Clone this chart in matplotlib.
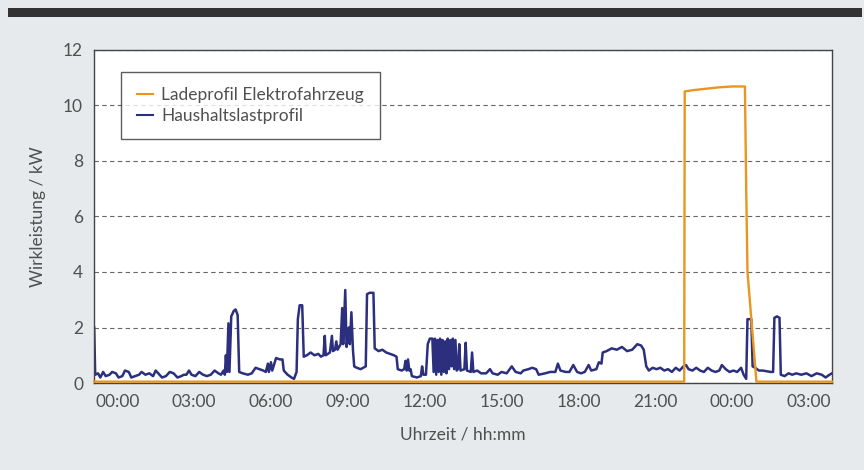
import matplotlib
matplotlib.use("Agg")
import matplotlib.pyplot as plt
from matplotlib.patches import Rectangle

# time in hours since 00:00 of day 1, power in kW
hh_time = [
    -0.90, -0.86, -0.75, -0.66, -0.55, -0.45, -0.30, -0.20, -0.05, 0.05, 0.20, 0.30,
    0.45, 0.55, 0.70, 0.85, 0.95, 1.10, 1.25, 1.40, 1.50, 1.60, 1.75, 1.90, 2.05,
    2.20, 2.35, 2.50, 2.60, 2.70, 2.80, 2.90, 3.05, 3.20, 3.35, 3.50, 3.65, 3.80,
    3.95, 4.05, 4.15, 4.20, 4.24, 4.28, 4.34, 4.38, 4.45, 4.55, 4.62, 4.70, 4.76,
    4.90, 5.10, 5.25, 5.40, 5.55, 5.70, 5.80, 5.88, 5.92, 6.00, 6.05, 6.20, 6.35,
    6.45, 6.50, 6.65, 6.80, 6.90, 7.00, 7.05, 7.12, 7.22, 7.28, 7.40, 7.55, 7.70,
    7.85, 7.95, 8.05, 8.10, 8.14, 8.30, 8.38, 8.42, 8.50, 8.55, 8.60, 8.72, 8.78,
    8.82, 8.90, 8.95, 9.00, 9.04, 9.08, 9.14, 9.20, 9.25, 9.35, 9.50, 9.60, 9.70,
    9.75, 9.85, 10.00, 10.05, 10.20, 10.35, 10.50, 10.65, 10.80, 10.90, 10.95,
    11.10, 11.20, 11.25, 11.30, 11.35, 11.40, 11.45, 11.50, 11.70, 11.85, 11.90,
    11.95, 12.05, 12.12, 12.20, 12.30, 12.35, 12.40, 12.45, 12.50, 12.55, 12.60,
    12.65, 12.70, 12.75, 12.80, 12.85, 12.90, 12.95, 13.00, 13.05, 13.10, 13.15,
    13.20, 13.25, 13.30, 13.35, 13.40, 13.55, 13.60, 13.65, 13.80, 13.85, 13.90,
    14.05, 14.20, 14.40, 14.55, 14.65, 14.85, 15.00, 15.20, 15.40, 15.55, 15.75,
    15.85, 16.05, 16.20, 16.35, 16.45, 16.70, 16.90, 17.10, 17.20, 17.30, 17.50,
    17.65, 17.80, 17.95, 18.10, 18.25, 18.40, 18.50, 18.70, 18.80, 18.90, 18.95,
    19.10, 19.30, 19.50, 19.70, 19.90, 20.10, 20.30, 20.45, 20.55, 20.65, 20.75,
    20.90, 21.05, 21.20, 21.35, 21.50, 21.65, 21.80, 21.95, 22.10, 22.20, 22.30,
    22.45, 22.60, 22.75, 22.90, 23.05, 23.20, 23.35, 23.50, 23.60, 23.75, 23.90,
    24.05, 24.20, 24.35, 24.45, 24.55, 24.60, 24.75, 24.80, 24.90, 25.05, 25.20,
    25.50, 25.60, 25.65, 25.75, 25.85, 25.90, 26.05, 26.20, 26.35, 26.50, 26.70,
    26.90, 27.10, 27.30, 27.50, 27.65, 27.80, 27.90,
]
hh_kw = [
    2.0, 0.3, 0.35, 0.2, 0.4, 0.25, 0.3, 0.4, 0.35, 0.2, 0.25, 0.45,
    0.4, 0.2, 0.25, 0.3, 0.4, 0.3, 0.35, 0.25, 0.45, 0.35, 0.2, 0.25, 0.4,
    0.35, 0.2, 0.25, 0.3, 0.3, 0.45, 0.3, 0.25, 0.4, 0.3, 0.25, 0.3, 0.45,
    0.35, 0.3, 0.45, 0.3, 1.0, 0.4, 2.15, 0.4, 2.4, 2.6, 2.65, 2.45, 0.4,
    0.35, 0.3, 0.35, 0.55, 0.5, 0.45, 0.4, 0.7, 0.4, 0.75, 0.45, 0.9, 0.85,
    0.85, 0.45, 0.3, 0.2, 0.15, 0.4, 2.3, 2.8, 2.8, 0.95, 1.0, 1.1, 1.0,
    1.05, 0.95, 1.0, 1.7, 1.0, 1.1, 1.7, 1.15, 1.2, 1.5, 1.2, 1.4, 2.7,
    1.4, 3.35, 1.3, 1.6, 2.0, 1.4, 2.55, 1.2, 0.6, 0.55, 0.5, 0.55, 0.6,
    3.2, 3.25, 3.25, 1.25, 1.15, 1.2, 1.1, 1.05, 1.0, 0.95, 0.5,
    0.45, 0.5, 0.8, 0.45, 0.85, 0.45, 0.5, 0.25, 0.2, 0.25, 0.6,
    0.3, 0.3, 1.4, 1.6, 1.6, 0.4, 1.6, 0.3, 1.55, 0.4, 1.6,
    0.3, 1.55, 0.4, 1.5, 0.35, 1.6, 0.5, 1.55, 0.6, 1.6, 0.5,
    1.55, 0.45, 0.5, 1.4, 0.45, 0.5, 1.45, 0.45, 0.4, 1.1, 0.4,
    0.45, 0.35, 0.35, 0.5, 0.35, 0.3, 0.4, 0.35, 0.6, 0.4, 0.35,
    0.45, 0.5, 0.55, 0.5, 0.3, 0.35, 0.4, 0.4, 0.7, 0.45, 0.4,
    0.4, 0.65, 0.4, 0.35, 0.4, 0.65, 0.45, 0.5, 0.75, 0.7, 1.1,
    1.15, 1.25, 1.2, 1.3, 1.15, 1.2, 1.4, 1.35, 1.2, 0.6, 0.45,
    0.55, 0.5, 0.55, 0.45, 0.5, 0.4, 0.55, 0.45, 0.6, 0.65, 0.5,
    0.45, 0.55, 0.45, 0.4, 0.55, 0.45, 0.4, 0.45, 0.65, 0.5, 0.4,
    0.45, 0.4, 0.55, 0.3, 0.15, 2.3, 2.3, 0.6, 0.55, 0.45, 0.45,
    0.4, 0.4, 2.35, 2.4, 2.35, 0.3, 0.25, 0.35, 0.3, 0.35, 0.3,
    0.35, 0.25, 0.35, 0.3, 0.2, 0.3, 0.35,
]

ev_time = [-0.90, 22.13, 22.15, 22.50, 23.00, 23.50, 24.00, 24.50, 24.55, 24.60, 24.95, 27.90]
ev_kw = [0.05, 0.05, 10.50, 10.55, 10.60, 10.65, 10.68, 10.68, 7.00, 4.00, 0.05, 0.05]

tick_hours = [0, 3, 6, 9, 12, 15, 18, 21, 24, 27]
tick_labels = ["00:00", "03:00", "06:00", "09:00", "12:00", "15:00", "18:00", "21:00", "00:00", "03:00"]
y_ticks = [0, 2, 4, 6, 8, 10, 12]

plt.rcParams["font.family"] = ["Lato", "DejaVu Sans"]
text_color = "#505050"

fig = plt.figure(figsize=(8.64, 4.70), dpi=100, facecolor="#e6eaec")
fig.add_artist(Rectangle((0.009, 0.964), 0.989, 0.019, transform=fig.transFigure,
                         facecolor="#333333", edgecolor="none"))
ax = fig.add_axes([0.109, 0.185, 0.854, 0.709])
ax.set_facecolor("white")

ax.plot(ev_time, ev_kw, color="#e8961e", lw=1.7, label="Ladeprofil Elektrofahrzeug",
        clip_on=False, zorder=3)
ax.plot(hh_time, hh_kw, color="#2b2f7e", lw=1.8, label="Haushaltslastprofil", zorder=2)

ax.set_xlim(-0.9, 27.9)
ax.set_ylim(0, 12)
ax.set_xticks(tick_hours)
ax.set_xticklabels(tick_labels)
ax.set_yticks(y_ticks)
ax.tick_params(length=0, labelsize=12.5, labelcolor=text_color, pad=8)
ax.yaxis.grid(True, linestyle=(0, (4, 3)), color="#666666", lw=0.8)
ax.set_axisbelow(True)
for sp in ax.spines.values():
    sp.set_color("#444444")
    sp.set_linewidth(1.0)

ax.set_xlabel("Uhrzeit / hh:mm", fontsize=12.5, color=text_color, labelpad=12)
ax.set_ylabel("Wirkleistung / kW", fontsize=12.5, color=text_color, labelpad=12)

leg = ax.legend(loc="upper left", bbox_to_anchor=(0.037, 0.934), fontsize=12.5,
                frameon=True, fancybox=False, edgecolor="#333333", handlelength=0.9,
                handletextpad=0.5, labelspacing=0.25, borderpad=0.9, borderaxespad=0)
leg.get_frame().set_linewidth(1.0)
for t in leg.get_texts():
    t.set_color(text_color)
for h in leg.get_lines():
    h.set_linewidth(1.5)

fig.savefig("out.png", dpi=100, facecolor=fig.get_facecolor())
